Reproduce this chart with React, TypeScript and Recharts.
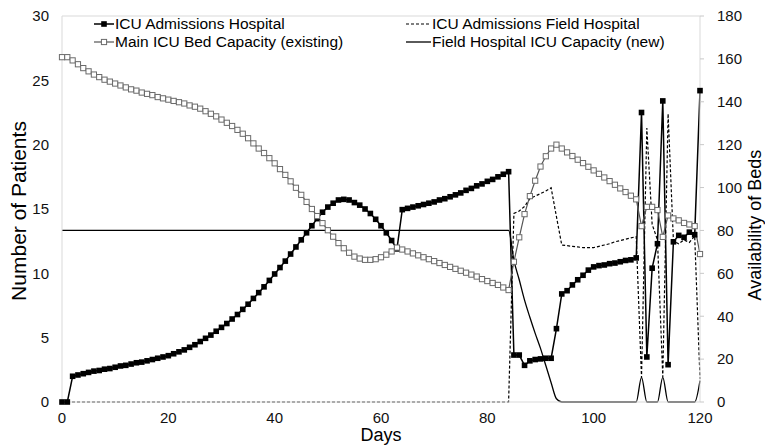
import React from 'react';
import { ComposedChart, Line, XAxis, YAxis, Legend, ReferenceLine } from 'recharts';

const FONT = '"Liberation Sans", Arial, Helvetica, sans-serif';

// Day index (x categories)
const days = Array.from({ length: 121 }, (_, i) => i);

const xTicks = [0, 20, 40, 60, 80, 100, 120];
const patientTicks = [0, 5, 10, 15, 20, 25, 30];
const bedTicks = [0, 20, 40, 60, 80, 100, 120, 140, 160, 180];

// ICU Admissions Hospital (left axis, patients)
const admissionsHospital = [
  0, 0, 2.0, 2.1, 2.2, 2.3, 2.4, 2.45, 2.55, 2.6,
  2.7, 2.8, 2.85, 2.95, 3.05, 3.1, 3.2, 3.3, 3.4, 3.5,
  3.6, 3.75, 3.9, 4.05, 4.25, 4.45, 4.7, 4.95, 5.2, 5.5,
  5.8, 6.1, 6.45, 6.8, 7.2, 7.6, 8.05, 8.5, 8.95, 9.45,
  9.95, 10.45, 10.95, 11.5, 12.05, 12.6, 13.15, 13.7, 14.25, 14.75,
  15.15, 15.45, 15.7, 15.75, 15.7, 15.5, 15.3, 15.0, 14.65, 14.2,
  13.7, 13.15, 12.55, 11.9, 14.95, 15.05, 15.15, 15.25, 15.35, 15.45,
  15.55, 15.7, 15.8, 15.95, 16.1, 16.25, 16.45, 16.6, 16.8, 16.95,
  17.15, 17.3, 17.5, 17.7, 17.9, 3.65, 3.65, 2.85, 3.2, 3.3,
  3.35, 3.4, 3.4, 5.7, 8.4, 8.65, 9.1, 9.5, 9.85, 10.25,
  10.5, 10.6, 10.65, 10.75, 10.8, 10.9, 11.0, 11.05, 11.2, 22.5,
  3.5, 10.4, 12.3, 23.4, 2.9, 12.45, 12.95, 12.8, 13.2, 13.0,
  24.2,
];

// Main ICU Bed Capacity (existing) (right axis, beds)
const mainIcuCapacity = [
  160.8, 160.8, 159.3, 157.5, 155.7, 154.2, 152.7, 151.5, 150.3, 149.4,
  148.5, 147.6, 146.7, 145.8, 145.2, 144.3, 143.7, 143.1, 142.2, 141.6,
  141.0, 140.4, 139.8, 139.2, 138.3, 137.7, 136.8, 135.6, 134.4, 133.2,
  131.7, 130.2, 128.7, 126.9, 125.1, 123.0, 120.6, 118.2, 116.1, 113.7,
  111.3, 108.6, 105.9, 102.9, 99.9, 96.6, 93.3, 90.0, 86.7, 83.4,
  80.1, 77.1, 74.1, 71.7, 69.6, 67.8, 66.9, 66.3, 66.3, 66.6,
  67.5, 68.7, 70.2, 72.0, 71.1, 70.2, 69.3, 68.4, 67.5, 66.6,
  65.7, 64.8, 63.9, 63.0, 62.1, 61.2, 60.3, 59.4, 58.5, 57.3,
  56.4, 55.5, 54.6, 53.4, 52.2, 65.4, 76.8, 87.6, 96.0, 103.2,
  109.8, 114.6, 118.2, 120.0, 118.2, 116.4, 114.7, 113.0, 111.4, 109.7,
  108.0, 106.4, 104.7, 103.0, 101.3, 99.6, 97.9, 96.2, 94.5, 82.0,
  91.0, 91.0, 89.5, 77.0, 87.0, 85.6, 84.7, 83.5, 82.8, 82.0,
  69.0,
];

// ICU Admissions Field Hospital (left axis, patients)
const admissionsField = [
  0, 0, 0, 0, 0, 0, 0, 0, 0, 0,
  0, 0, 0, 0, 0, 0, 0, 0, 0, 0,
  0, 0, 0, 0, 0, 0, 0, 0, 0, 0,
  0, 0, 0, 0, 0, 0, 0, 0, 0, 0,
  0, 0, 0, 0, 0, 0, 0, 0, 0, 0,
  0, 0, 0, 0, 0, 0, 0, 0, 0, 0,
  0, 0, 0, 0, 0, 0, 0, 0, 0, 0,
  0, 0, 0, 0, 0, 0, 0, 0, 0, 0,
  0, 0, 0, 0, 0, 14.65, 14.85, 15.2, 15.8, 16.0,
  16.2, 16.4, 16.65, 14.4, 12.2, 12.15, 12.1, 12.05, 12.0, 12.0,
  12.0, 12.1, 12.2, 12.3, 12.45, 12.55, 12.65, 12.75, 12.85, 1.9,
  21.3, 13.8, 12.6, 1.95, 22.4, 12.5, 12.3, 12.6, 12.4, 12.9,
  1.8,
];

// Field Hospital ICU Capacity (new) (right axis, beds)
const fieldHospitalCapacity = [
  80, 80, 80, 80, 80, 80, 80, 80, 80, 80,
  80, 80, 80, 80, 80, 80, 80, 80, 80, 80,
  80, 80, 80, 80, 80, 80, 80, 80, 80, 80,
  80, 80, 80, 80, 80, 80, 80, 80, 80, 80,
  80, 80, 80, 80, 80, 80, 80, 80, 80, 80,
  80, 80, 80, 80, 80, 80, 80, 80, 80, 80,
  80, 80, 80, 80, 80, 80, 80, 80, 80, 80,
  80, 80, 80, 80, 80, 80, 80, 80, 80, 80,
  80, 80, 80, 80, 80, 66, 57, 47.5, 39.5, 32,
  25, 17, 9, 1.5, 0, 0, 0, 0, 0, 0,
  0, 0, 0, 0, 0, 0, 0, 0, 0, 11.5,
  0, 0, 0, 11.5, 0, 0, 0, 0, 0, 0,
  10,
];

const seriesNames = {
  admHosp: 'ICU Admissions Hospital',
  admField: 'ICU Admissions Field Hospital',
  mainCap: 'Main ICU Bed Capacity (existing)',
  fieldCap: 'Field Hospital ICU Capacity (new)',
};

const data = days.map((day, i) => ({
  day,
  admHosp: admissionsHospital[i],
  mainCap: mainIcuCapacity[i],
  admField: admissionsField[i],
  fieldCap: fieldHospitalCapacity[i],
}));

const FilledSquare = (props: any) => {
  const { cx, cy, index } = props;
  if (cx == null || cy == null) return <g key={`fs-${index}`} />;
  return <rect key={`fs-${index}`} x={cx - 2.8} y={cy - 2.8} width={5.6} height={5.6} fill="#000" />;
};

const HollowSquare = (props: any) => {
  const { cx, cy, index } = props;
  if (cx == null || cy == null) return <g key={`hs-${index}`} />;
  return (
    <rect key={`hs-${index}`} x={cx - 2.6} y={cy - 2.6} width={5.2} height={5.2} fill="#fff" stroke="#6a6a6a" strokeWidth={1} />
  );
};

const LegendIcon = ({ kind }: { kind: string }) => {
  if (kind === 'filled') {
    return (
      <svg width={20} height={12} style={{ display: 'block' }}>
        <line x1={0} y1={6} x2={20} y2={6} stroke="#000" strokeWidth={1.5} />
        <rect x={7.2} y={3.2} width={5.6} height={5.6} fill="#000" />
      </svg>
    );
  }
  if (kind === 'hollow') {
    return (
      <svg width={20} height={12} style={{ display: 'block' }}>
        <line x1={0} y1={6} x2={20} y2={6} stroke="#555" strokeWidth={1.2} />
        <rect x={7.4} y={3.4} width={5.2} height={5.2} fill="#fff" stroke="#6a6a6a" strokeWidth={1} />
      </svg>
    );
  }
  if (kind === 'dashed') {
    return (
      <svg width={25} height={12} style={{ display: 'block' }}>
        <line x1={0} y1={6} x2={25} y2={6} stroke="#000" strokeWidth={1.2} strokeDasharray="3 2" />
      </svg>
    );
  }
  return (
    <svg width={25} height={12} style={{ display: 'block' }}>
      <line x1={0} y1={6} x2={25} y2={6} stroke="#000" strokeWidth={1.3} />
    </svg>
  );
};

const legendItems = [
  { key: 'admHosp', kind: 'filled', col: 0, row: 0 },
  { key: 'admField', kind: 'dashed', col: 1, row: 0 },
  { key: 'mainCap', kind: 'hollow', col: 0, row: 1 },
  { key: 'fieldCap', kind: 'solid', col: 1, row: 1 },
];

const renderLegend = () => (
  <div style={{ position: 'relative', width: 765, height: 56, fontFamily: FONT, fontSize: 15.5, color: '#000' }}>
    {legendItems.map((it) => (
      <div
        key={it.key}
        style={{
          position: 'absolute',
          left: it.col === 0 ? 94 : 406,
          top: (it.row === 0 ? 24 : 42) - 10,
          height: 20,
          display: 'flex',
          alignItems: 'center',
          whiteSpace: 'nowrap',
        }}
      >
        <LegendIcon kind={it.kind} />
        <span style={{ lineHeight: '20px', marginLeft: 1 }}>{(seriesNames as any)[it.key]}</span>
      </div>
    ))}
  </div>
);

const DaysLabel = (props: any) => {
  const vb = props.viewBox;
  return (
    <text x={vb.x + vb.width / 2} y={441} textAnchor="middle" fontFamily={FONT} fontSize={18} fill="#000">
      Days
    </text>
  );
};

const LeftTitle = (props: any) => {
  const vb = props.viewBox;
  const x = vb.x + 18;
  const y = 211;
  return (
    <text x={x} y={y} transform={`rotate(-90 ${x} ${y})`} textAnchor="middle" dominantBaseline="central" fontFamily={FONT} fontSize={21} fill="#000">
      Number of Patients
    </text>
  );
};

const RightTitle = (props: any) => {
  const vb = props.viewBox;
  const x = vb.x + 55;
  const y = 225;
  return (
    <text x={x} y={y} transform={`rotate(-90 ${x} ${y})`} textAnchor="middle" dominantBaseline="central" fontFamily={FONT} fontSize={18} fill="#000">
      Availability of Beds
    </text>
  );
};

const tickStyle = { fontSize: 15, fill: '#111', fontFamily: FONT };

export default function App() {
  return (
    <div style={{ position: 'absolute', left: 0, top: 0, width: 765, height: 445, background: '#fff' }}>
      <ComposedChart width={765} height={445} data={data} margin={{ top: 16, right: 0, bottom: 0, left: 0 }}>
        <XAxis
          dataKey="day"
          type="number"
          domain={[0, 120]}
          ticks={xTicks}
          height={43}
          tickSize={0}
          tickMargin={10}
          axisLine={{ stroke: '#d9d9d9' }}
          tickLine={false}
          tick={tickStyle}
          label={DaysLabel}
        />
        <YAxis
          yAxisId="left"
          orientation="left"
          domain={[0, 30]}
          ticks={patientTicks}
          width={62}
          tickSize={0}
          tickMargin={13}
          axisLine={{ stroke: '#d9d9d9' }}
          tickLine={false}
          tick={tickStyle}
          label={LeftTitle}
        />
        <YAxis
          yAxisId="right"
          orientation="right"
          domain={[0, 180]}
          ticks={bedTicks}
          width={65}
          tickSize={4}
          tickMargin={13}
          axisLine={{ stroke: '#d9d9d9' }}
          tickLine={{ stroke: '#c8c8c8' }}
          tick={tickStyle}
          label={RightTitle}
        />
        <ReferenceLine yAxisId="left" y={30} stroke="#d9d9d9" strokeWidth={1} />
        <Legend
          content={renderLegend}
          layout="horizontal"
          verticalAlign="middle"
          align="center"
          wrapperStyle={{ left: 0, top: 0, width: 765, height: 56 }}
        />
        <Line
          yAxisId="right"
          dataKey="fieldCap"
          name={seriesNames.fieldCap}
          type="monotone"
          stroke="#000"
          strokeWidth={1.3}
          dot={false}
          activeDot={false}
          isAnimationActive={false}
        />
        <Line
          yAxisId="left"
          dataKey="admField"
          name={seriesNames.admField}
          type="linear"
          stroke="#000"
          strokeWidth={1.2}
          strokeDasharray="3 2"
          dot={false}
          activeDot={false}
          isAnimationActive={false}
        />
        <Line
          yAxisId="left"
          dataKey="admHosp"
          name={seriesNames.admHosp}
          type="linear"
          stroke="#000"
          strokeWidth={1.5}
          dot={FilledSquare}
          activeDot={false}
          isAnimationActive={false}
        />
        <Line
          yAxisId="right"
          dataKey="mainCap"
          name={seriesNames.mainCap}
          type="linear"
          stroke="#555"
          strokeWidth={1.2}
          dot={HollowSquare}
          activeDot={false}
          isAnimationActive={false}
        />
      </ComposedChart>
    </div>
  );
}
